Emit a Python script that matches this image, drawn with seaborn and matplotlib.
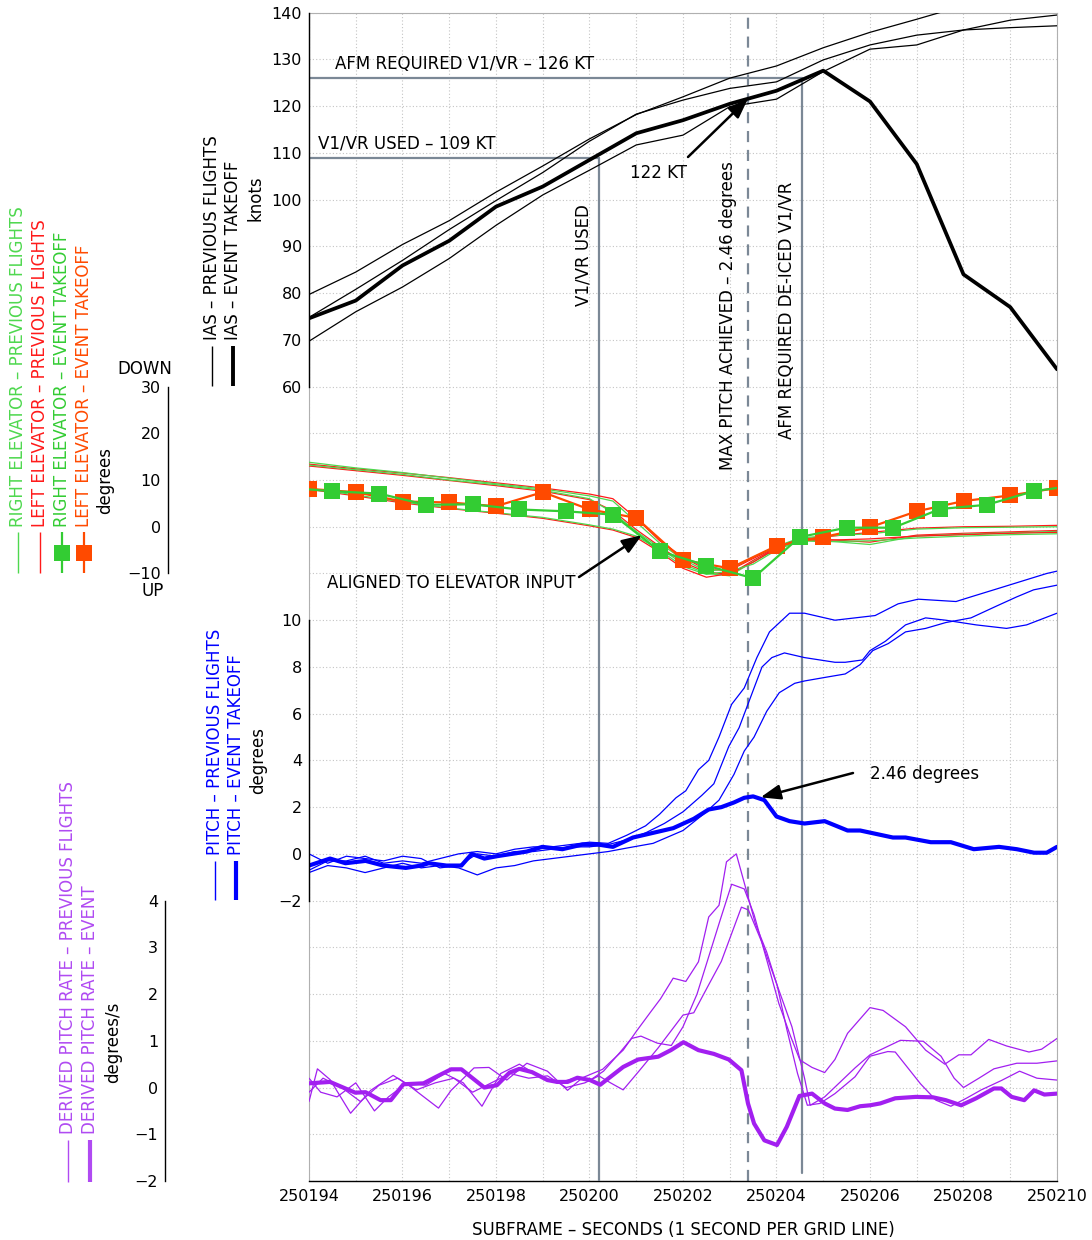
import numpy as np
import matplotlib
matplotlib.use("Agg")
import matplotlib.pyplot as plt
import seaborn as sns
from matplotlib.lines import Line2D
from matplotlib.ticker import FuncFormatter

sns.set_style("white")
plt.rcParams["font.family"] = ["DejaVu Sans"]
plt.rcParams["text.color"] = "black"
plt.rcParams["axes.labelcolor"] = "black"
plt.rcParams["xtick.color"] = "black"
plt.rcParams["ytick.color"] = "black"

# ---------------------------------------------------------------- data
SUBFRAME_BASE = 250000
X_START, X_END = 250194, 250210

# IAS (knots), 1 sample per second
ias_time = [194, 195, 196, 197, 198, 199, 200, 201, 202, 203, 204, 205, 206, 207, 208, 209, 210]
ias_event = [74.6, 78.4, 85.9, 91.2, 98.5, 102.8, 108.5, 114.2, 117.0, 120.5, 123.3, 127.6, 121.0, 107.6, 84.0, 77.0, 63.7]
ias_prev_1 = [79.7, 84.5, 90.4, 95.5, 101.6, 107.2, 113.0, 118.2, 122.0, 126.0, 128.6, 132.5, 135.8, 138.6, 141.5, 143.5, 145.0]
ias_prev_2 = [74.8, 80.8, 87.0, 93.6, 99.8, 105.8, 112.5, 118.3, 121.3, 123.8, 125.2, 129.9, 133.1, 135.2, 136.3, 136.8, 137.2]
ias_prev_3 = [69.7, 76.0, 81.3, 87.4, 94.5, 101.0, 106.3, 111.7, 113.8, 119.9, 121.5, 127.4, 132.2, 133.1, 136.3, 138.4, 139.5]

# Elevator (degrees, + = trailing edge down)
elev_left_event_time = [194, 195, 196, 197, 198, 199, 200, 201, 202, 203, 204, 205, 206, 207, 208, 209, 210]
elev_left_event = [8.1, 7.4, 5.4, 5.2, 4.4, 7.4, 3.7, 1.9, -7.1, -8.9, -4.1, -2.2, -0.1, 3.3, 5.5, 6.7, 8.3]
elev_right_event_time = [193.5, 194.5, 195.5, 196.5, 197.5, 198.5, 199.5, 200.5, 201.5, 202.5, 203.5,
                         204.5, 205.5, 206.5, 207.5, 208.5, 209.5, 210.5]
elev_right_event = [8.4, 7.6, 7.1, 4.7, 4.8, 3.7, 3.3, 2.6, -5.2, -8.3, -11.0, -2.2, -0.2, -0.2, 3.8, 4.7, 7.6, 9.0]

elev_prev_time = [194, 195, 196, 197, 198, 199, 200, 200.5, 201, 201.5, 202, 202.5, 203, 203.5, 204, 204.5,
                  205, 206, 207, 208, 209, 210]
elev_right_prev_a = [13.8, 12.6, 11.6, 10.4, 9.2, 8.1, 6.6, 5.5, 1.0, -3.5, -7.0, -9.5, -9.0, -6.5, -4.2, -2.4, -2.0, -1.5, -0.5, -0.2, -0.1, 0.0]
elev_left_prev_a = [13.4, 12.4, 11.5, 10.5, 9.4, 8.3, 7.0, 6.0, 1.8, -3.0, -6.5, -9.2, -9.3, -6.8, -4.4, -2.6, -2.2, -1.2, -0.3, 0.0, 0.1, 0.3]
elev_right_prev_b = [13.2, 12.2, 11.2, 10.0, 9.0, 7.8, 6.0, 3.0, -1.0, -4.5, -8.0, -10.0, -10.5, -7.5, -4.8, -2.8, -3.0, -3.8, -2.0, -1.6, -1.3, -1.0]
elev_left_prev_b = [13.0, 12.0, 11.0, 9.9, 8.8, 7.6, 5.8, 3.4, -0.6, -4.2, -7.6, -9.7, -10.2, -7.2, -4.5, -2.6, -2.7, -3.3, -1.8, -1.4, -1.1, -0.8]
elev_right_prev_c = [8.2, 6.8, 5.3, 4.0, 3.0, 2.0, 0.4, -0.5, -2.0, -5.0, -8.5, -10.2, -9.5, -8.0, -5.0, -3.0, -3.2, -3.0, -2.4, -2.0, -1.7, -1.5]
elev_left_prev_c = [8.0, 6.6, 5.1, 3.9, 2.9, 1.8, 0.2, -0.7, -2.3, -5.4, -8.9, -10.8, -10.0, -7.6, -4.6, -2.7, -2.9, -2.6, -2.0, -1.7, -1.4, -1.2]

# Pitch (degrees)
pitch_event_time = [194.0, 194.45, 194.78, 195.21, 195.59, 196.07, 196.4, 196.56, 196.94, 197.26,
                    197.48, 197.75, 198.02, 198.34, 198.66, 198.99, 199.42, 199.85, 200.18, 200.5,
                    200.93, 201.36, 201.79, 202.23, 202.55, 202.82, 203.09, 203.31, 203.5, 203.74,
                    204.0, 204.28, 204.6, 205.03, 205.52, 205.79, 206.49, 206.76, 207.3, 207.73,
                    208.22, 208.76, 209.14, 209.51, 209.78, 210.0]
pitch_event = [-0.5, -0.2, -0.4, -0.3, -0.5, -0.6, -0.5, -0.4, -0.5, -0.5,
               0.0, -0.2, -0.1, 0.0, 0.1, 0.3, 0.2, 0.4, 0.4, 0.3,
               0.7, 0.9, 1.1, 1.5, 1.9, 2.0, 2.2, 2.4, 2.46, 2.3,
               1.6, 1.4, 1.3, 1.4, 1.0, 1.0, 0.7, 0.7, 0.5, 0.5,
               0.2, 0.3, 0.2, 0.05, 0.05, 0.3]
pitch_prev_1_time = [194.0, 194.4, 194.8, 195.2, 195.6, 196.0, 196.4, 196.8, 197.2, 197.6,
                     198.0, 198.4, 198.8, 199.2, 199.6, 200.0, 200.4, 200.8, 201.2, 201.5,
                     201.85, 202.06, 202.33, 202.55, 202.77, 203.04, 203.31, 203.58, 203.85, 204.28,
                     204.6, 205.25, 205.68, 206.11, 206.6, 207.03, 207.84, 208.16, 208.81, 209.78, 210.0]
pitch_prev_1 = [-0.7, -0.3, -0.3, -0.1, -0.4, -0.3, -0.4, -0.2, 0.0, 0.1,
                0.0, 0.2, 0.3, 0.3, 0.4, 0.5, 0.45, 0.8, 1.2, 1.7,
                2.4, 2.7, 3.6, 4.0, 5.0, 6.4, 7.1, 8.4, 9.5, 10.3,
                10.3, 10.0, 10.1, 10.2, 10.7, 10.9, 10.8, 11.0, 11.4, 12.0, 12.1]
pitch_prev_2_time = [194.0, 194.4, 194.8, 195.2, 195.6, 196.0, 196.4, 196.8, 197.2, 197.6,
                     198.0, 198.4, 198.8, 199.2, 199.6, 200.0, 200.4, 200.8, 201.2, 201.6,
                     202.0, 202.4, 202.66, 202.98, 203.2, 203.52, 203.69, 203.9, 204.17, 204.6,
                     205.25, 205.47, 205.84, 206.0, 206.33, 206.76, 207.19, 207.62, 208.27, 208.92,
                     209.35, 210.0]
pitch_prev_2 = [0.0, -0.4, -0.1, -0.2, -0.3, -0.1, -0.2, -0.6, -0.5, 0.0,
                -0.1, 0.1, 0.1, 0.2, 0.3, 0.3, 0.4, 0.6, 0.9, 1.3,
                1.8, 2.5, 3.0, 4.6, 5.4, 7.1, 8.0, 8.4, 8.6, 8.4,
                8.2, 8.2, 8.3, 8.7, 9.1, 9.8, 10.1, 10.0, 9.8, 9.65,
                9.8, 10.3]
pitch_prev_3_time = [194.0, 194.4, 194.8, 195.2, 195.6, 196.0, 196.4, 196.8, 197.2, 197.6,
                     198.0, 198.4, 198.8, 199.2, 199.6, 200.0, 200.4, 200.8, 201.36, 202.0,
                     202.44, 202.77, 203.09, 203.31, 203.52, 203.79, 204.06, 204.39, 204.6, 205.03,
                     205.47, 205.79, 206.06, 206.39, 206.76, 207.19, 207.62, 208.16, 208.7, 209.14,
                     209.5, 210.0]
pitch_prev_3 = [-0.8, -0.5, -0.6, -0.8, -0.6, -0.4, -0.6, -0.5, -0.6, -0.9,
                -0.6, -0.5, -0.3, -0.2, -0.1, 0.0, 0.1, 0.25, 0.45, 1.0,
                1.7, 2.3, 3.4, 4.4, 5.0, 6.1, 6.9, 7.3, 7.4, 7.55,
                7.7, 8.1, 8.7, 9.0, 9.5, 9.65, 9.9, 10.1, 10.6, 11.0,
                11.3, 11.5]

# Derived pitch rate (degrees/s)
prate_event_time = [194.0, 194.45, 194.99, 195.21, 195.53, 195.75, 196.02, 196.45, 196.72, 197.04,
                    197.26, 197.75, 198.02, 198.29, 198.5, 198.77, 199.1, 199.31, 199.53, 199.74,
                    200.01, 200.23, 200.45, 200.72, 201.04, 201.47, 201.74, 202.01, 202.33, 202.66,
                    202.98, 203.25, 203.39, 203.52, 203.74, 204.01, 204.22, 204.49, 204.76, 205.03,
                    205.25, 205.52, 205.79, 206.0, 206.22, 206.54, 206.98, 207.35, 207.62, 207.95,
                    208.27, 208.65, 208.81, 209.03, 209.3, 209.51, 209.73, 210.0]
prate_event = [0.09, 0.12, -0.11, -0.1, -0.27, -0.27, 0.07, 0.09, 0.23, 0.39,
               0.39, 0.0, 0.05, 0.32, 0.4, 0.33, 0.16, 0.12, 0.12, 0.21,
               0.16, 0.06, 0.23, 0.44, 0.6, 0.66, 0.8, 0.97, 0.8, 0.72,
               0.6, 0.37, -0.34, -0.77, -1.13, -1.23, -0.84, -0.18, -0.13, -0.34,
               -0.45, -0.48, -0.4, -0.38, -0.34, -0.23, -0.2, -0.21, -0.27, -0.38,
               -0.23, -0.02, -0.02, -0.2, -0.27, -0.06, -0.15, -0.13]
prate_prev_1_time = [194.0, 194.18, 194.45, 194.89, 195.32, 195.8, 196.13, 196.77, 197.04, 197.53,
                     197.85, 198.23, 198.66, 199.1, 199.53, 199.85, 200.28, 200.72, 201.0, 201.31,
                     201.52, 201.79, 202.06, 202.33, 202.55, 202.77, 202.93, 203.14, 203.36, 203.55,
                     203.79, 204.01, 204.22, 204.45, 204.66, 204.93, 205.25, 205.68, 206.0, 206.38,
                     206.54, 207.08, 207.41, 207.73, 208.06, 208.38, 208.81, 209.2, 209.57, 210.0]
prate_prev_1 = [-0.3, 0.4, 0.17, -0.55, -0.06, 0.26, 0.05, -0.44, -0.06, 0.42,
                0.43, 0.16, 0.52, 0.35, -0.06, 0.21, 0.39, 0.8, 1.2, 1.62,
                1.9, 2.34, 2.27, 2.69, 3.65, 3.9, 4.83, 5.0, 4.2, 3.5,
                2.9, 2.2, 1.25, 0.3, -0.38, -0.34, -0.13, 0.23, 0.67, 0.77,
                0.76, 0.08, -0.27, -0.4, -0.23, -0.05, 0.15, 0.35, 0.2, 0.16]
prate_prev_2_time = [194.0, 194.25, 194.6, 195.0, 195.4, 195.7, 196.1, 196.5, 196.9, 197.3,
                     197.7, 198.1, 198.5, 198.9, 199.3, 199.7, 200.0, 200.3, 200.65, 200.9,
                     201.1, 201.45, 201.75, 202.0, 202.3, 202.55, 202.8, 203.04, 203.31, 203.52,
                     203.8, 204.05, 204.3, 204.5, 204.76, 205.03, 205.25, 205.52, 206.0, 206.28,
                     206.76, 207.19, 207.6, 207.9, 208.16, 208.54, 208.92, 209.4, 209.67, 210.0]
prate_prev_2 = [0.2, -0.1, -0.2, 0.1, -0.5, -0.2, 0.1, 0.05, 0.3, 0.1,
                -0.4, 0.3, 0.5, 0.25, 0.1, 0.2, 0.15, 0.35, 0.75, 1.05,
                1.1, 0.95, 0.9, 1.3, 2.0, 2.8, 3.6, 4.35, 4.25, 3.7,
                2.7, 1.8, 1.1, 0.59, 0.43, 0.32, 0.6, 1.16, 1.71, 1.65,
                1.3, 0.8, 0.5, 0.7, 0.7, 1.03, 0.89, 0.76, 0.82, 1.05]
prate_prev_3_time = [194.0, 194.3, 194.7, 195.1, 195.5, 195.9, 196.3, 196.7, 197.1, 197.5,
                     197.9, 198.3, 198.7, 199.1, 199.5, 199.9, 200.2, 200.45, 200.72, 201.04,
                     201.47, 202.0, 202.23, 202.55, 202.82, 203.25, 203.4, 203.69, 204.01, 204.33,
                     204.6, 204.72, 205.03, 205.68, 206.0, 206.65, 207.14, 207.52, 207.8, 208.0,
                     208.33, 208.65, 209.14, 209.57, 210.0]
prate_prev_3 = [-0.1, 0.2, 0.0, -0.3, 0.05, 0.2, -0.05, 0.1, 0.2, -0.1,
                0.1, 0.3, 0.2, 0.25, 0.0, 0.1, 0.25, 0.1, -0.05, 0.33,
                0.85, 1.55, 1.6, 2.2, 2.7, 3.86, 3.8, 3.1, 2.2, 1.3,
                0.2, -0.38, -0.2, 0.42, 0.7, 1.01, 0.99, 0.67, 0.2, 0.0,
                0.2, 0.4, 0.52, 0.52, 0.57]

# reference speeds / times
V1_USED_KT = 109
AFM_VR_KT = 126
T_V1_USED = 250200.2
T_MAX_PITCH = 250203.39
T_AFM_DEICED = 250204.55
MAX_PITCH_DEG = 2.46
ALIGN_POINT = (250201.12, -1.8)          # elevator-axis point of the "aligned" arrow
PITCH_ARROW_POINT = (250203.66, 2.42)    # pitch-axis point of the 2.46 arrow

# ---------------------------------------------------------------- style
GREEN = "#33cc33"
GREEN_THIN = "#4fd84f"
RED = "#ff1a1a"
ORANGE = "#ff4a00"
BLUE = "#0000ff"
PURPLE = "#a21ff0"
PURPLE_TXT = "#b04af2"
REF_C = "#7b8896"
GRID_C = "#c4c4c4"

W, H = 1092, 1240
L, R, TOP, BOT = 309, 1057, 12.7, 1181
NROWS = 25
rect = [L / W, 1 - BOT / H, (R - L) / W, (BOT - TOP) / H]

fig = plt.figure(figsize=(W / 100, H / 100), dpi=100)


def fy(py):
    return 1 - py / H


def t(arr):
    return SUBFRAME_BASE + np.asarray(arr, dtype=float)


# ---------------------------------------------------------------- main frame / grid
ax = fig.add_axes(rect)
ax.set_xlim(X_START, X_END)
ax.set_ylim(0, NROWS)
ax.set_yticks(np.arange(0, NROWS + 1))
ax.tick_params(axis="y", length=0, labelleft=False)
ax.set_xticks(np.arange(X_START, X_END + 1))
ax.set_xticks(np.arange(X_START, X_END + 0.001, 0.1), minor=True)
ax.xaxis.set_major_formatter(FuncFormatter(lambda v, p: f"{int(round(v))}" if int(round(v)) % 2 == 0 else ""))
ax.tick_params(axis="x", which="major", direction="in", length=7, width=1, labelsize=11.5, pad=6)
ax.tick_params(axis="x", which="minor", direction="in", length=3.5, width=0.7)
ax.grid(True, which="major", ls=(0, (1, 2)), color=GRID_C, lw=0.8)
for side in ["top", "right", "left"]:
    ax.spines[side].set_color("#b0b0b0")
    ax.spines[side].set_linewidth(0.8)
ax.spines["bottom"].set_color("black")
ax.spines["bottom"].set_linewidth(1.0)
ax.set_xlabel("SUBFRAME – SECONDS (1 SECOND PER GRID LINE)", fontsize=12, labelpad=12)


def make_band(units_per_row, zero_row_from_top, ticks, minor_step, spine_px):
    """Overlay axes whose y scale puts value 0 on grid row `zero_row_from_top`."""
    a = fig.add_axes(rect)
    a.patch.set_visible(False)
    zb = NROWS - zero_row_from_top
    a.set_ylim(-zb * units_per_row, (NROWS - zb) * units_per_row)
    a.set_xlim(X_START, X_END)
    a.xaxis.set_visible(False)
    for side in ["top", "right", "bottom"]:
        a.spines[side].set_visible(False)
    a.spines["left"].set_position(("axes", (spine_px - L) / (R - L)))
    a.spines["left"].set_bounds(ticks[0], ticks[-1])
    a.spines["left"].set_color("black")
    a.spines["left"].set_linewidth(1.0)
    a.set_yticks(ticks)
    a.set_yticks(np.arange(ticks[0], ticks[-1] + 1e-9, minor_step), minor=True)
    a.tick_params(axis="y", which="major", direction="in", length=7, width=1, labelsize=11.5, pad=5)
    a.tick_params(axis="y", which="minor", direction="in", length=3.5, width=0.7)
    a.grid(False)
    return a


ax_ias = make_band(10, 14, list(range(60, 141, 10)), 1, L)        # 140 kt on the top row
ax_elev = make_band(10, 11, [-10, 0, 10, 20, 30], 1, 168)
ax_pitch = make_band(2, 18, [-2, 0, 2, 4, 6, 8, 10], 0.2, L)
ax_prate = make_band(1, 23, [-2, -1, 0, 1, 2, 3, 4], 0.1, 165)

# ---------------------------------------------------------------- reference lines
ias_bottom = ax_ias.get_ylim()[0]
ax_ias.plot([X_START, T_AFM_DEICED], [AFM_VR_KT, AFM_VR_KT], color=REF_C, lw=1.6)
ax_ias.plot([X_START, T_V1_USED], [V1_USED_KT, V1_USED_KT], color=REF_C, lw=1.6)
ax_ias.plot([T_V1_USED, T_V1_USED], [V1_USED_KT, ias_bottom], color=REF_C, lw=1.6)
ax_ias.plot([T_AFM_DEICED, T_AFM_DEICED], [AFM_VR_KT, ias_bottom + 1.8], color=REF_C, lw=1.6)
ax.axvline(T_MAX_PITCH, color=REF_C, lw=1.6, ls=(0, (5, 3.5)))

# ---------------------------------------------------------------- data series
def line(a, x, y, color, lw, **kw):
    sns.lineplot(x=t(x), y=y, ax=a, color=color, lw=lw, estimator=None, sort=False, legend=False, **kw)


for s in (ias_prev_1, ias_prev_2, ias_prev_3):
    line(ax_ias, ias_time, s, "black", 0.9)
line(ax_ias, ias_time, ias_event, "black", 2.7)

for g, r in ((elev_right_prev_a, elev_left_prev_a), (elev_right_prev_b, elev_left_prev_b),
             (elev_right_prev_c, elev_left_prev_c)):
    line(ax_elev, elev_prev_time, r, RED, 0.9)
    line(ax_elev, elev_prev_time, g, GREEN_THIN, 0.9)
line(ax_elev, elev_left_event_time, elev_left_event, ORANGE, 1.6, marker="s", markersize=11,
     markeredgewidth=0)
line(ax_elev, elev_right_event_time, elev_right_event, GREEN, 1.6, marker="s", markersize=11,
     markeredgewidth=0)

for tt, s in ((pitch_prev_1_time, pitch_prev_1), (pitch_prev_2_time, pitch_prev_2),
              (pitch_prev_3_time, pitch_prev_3)):
    line(ax_pitch, tt, s, BLUE, 0.9)
line(ax_pitch, pitch_event_time, pitch_event, BLUE, 3.0)

for tt, s in ((prate_prev_1_time, prate_prev_1), (prate_prev_2_time, prate_prev_2),
              (prate_prev_3_time, prate_prev_3)):
    line(ax_prate, tt, s, PURPLE, 0.9)
line(ax_prate, prate_event_time, prate_event, PURPLE, 3.0)

# ---------------------------------------------------------------- annotations
FS = 12
fig.text(335 / W, fy(64), f"AFM REQUIRED V1/VR – {AFM_VR_KT} KT", ha="left", va="center", fontsize=FS)
fig.text(318 / W, fy(143), f"V1/VR USED – {V1_USED_KT} KT", ha="left", va="center", fontsize=FS)
fig.text(583 / W, fy(255), "V1/VR USED", rotation=90, ha="center", va="center", fontsize=FS)
fig.text(728 / W, fy(316), f"MAX PITCH ACHIEVED – {MAX_PITCH_DEG} degrees", rotation=90,
         ha="center", va="center", fontsize=FS)
fig.text(787 / W, fy(310), "AFM REQUIRED DE-ICED V1/VR", rotation=90, ha="center", va="center", fontsize=FS)

arrow = dict(arrowstyle="-|>,head_length=0.8,head_width=0.3", color="black", lw=1.8,
             mutation_scale=15, shrinkA=0, shrinkB=0)
ias_at_max = float(np.interp(T_MAX_PITCH, t(ias_time), ias_event))
fig.text(630 / W, fy(173), f"{round(ias_at_max)} KT", ha="left", va="center", fontsize=FS)
ax_ias.annotate("", xy=(T_MAX_PITCH, ias_at_max), xycoords="data",
                xytext=(688, H - 157), textcoords="figure pixels", arrowprops=arrow)

fig.text(327 / W, fy(583), "ALIGNED TO ELEVATOR INPUT", ha="left", va="center", fontsize=FS)
ax_elev.annotate("", xy=ALIGN_POINT, xycoords="data",
                 xytext=(579, H - 577), textcoords="figure pixels", arrowprops=arrow)

fig.text(870 / W, fy(774), f"{MAX_PITCH_DEG} degrees", ha="left", va="center", fontsize=FS)
ax_pitch.annotate("", xy=PITCH_ARROW_POINT, xycoords="data",
                  xytext=(853, H - 773), textcoords="figure pixels", arrowprops=arrow)

# ---------------------------------------------------------------- vertical legends
def vlegend(x, text_bottom, s, color, y0, y1, lw, marker=False):
    fig.text(x / W, fy(text_bottom), s, rotation=90, ha="center", va="bottom", color=color, fontsize=FS)
    fig.add_artist(Line2D([x / W, x / W], [fy(y0), fy(y1)], color=color, lw=lw, solid_capstyle="butt"))
    if marker:
        fig.add_artist(Line2D([x / W], [fy((y0 + y1) / 2)], marker="s", ms=11, mew=0, color=color, ls="none"))


# elevator
vlegend(18, 527, "RIGHT ELEVATOR – PREVIOUS FLIGHTS", GREEN_THIN, 532, 573, 1.0)
vlegend(40, 527, "LEFT ELEVATOR – PREVIOUS FLIGHTS", RED, 532, 573, 1.0)
vlegend(62, 527, "RIGHT ELEVATOR – EVENT TAKEOFF", GREEN, 532, 573, 1.6, marker=True)
vlegend(84, 527, "LEFT ELEVATOR – EVENT TAKEOFF", ORANGE, 532, 573, 1.6, marker=True)
fig.text(105 / W, fy(480), "degrees", rotation=90, ha="center", va="center", fontsize=FS)
fig.text(145 / W, fy(369), "DOWN", ha="center", va="center", fontsize=FS)
fig.text(153 / W, fy(591), "UP", ha="center", va="center", fontsize=FS)

# IAS
vlegend(212, 340, "IAS – PREVIOUS FLIGHTS", "black", 346, 386, 1.0)
vlegend(233, 340, "IAS – EVENT TAKEOFF", "black", 346, 386, 2.8)
fig.text(256 / W, fy(198), "knots", rotation=90, ha="center", va="center", fontsize=FS)

# pitch
vlegend(215, 855, "PITCH – PREVIOUS FLIGHTS", BLUE, 861, 900, 1.0)
vlegend(236, 855, "PITCH – EVENT TAKEOFF", BLUE, 861, 900, 3.0)
fig.text(258 / W, fy(760), "degrees", rotation=90, ha="center", va="center", fontsize=FS)

# pitch rate
vlegend(68, 1134, "DERIVED PITCH RATE – PREVIOUS FLIGHTS", PURPLE_TXT, 1140, 1182, 1.0)
vlegend(90, 1134, "DERIVED PITCH RATE – EVENT", PURPLE_TXT, 1140, 1182, 3.0)
fig.text(113 / W, fy(1042), "degrees/s", rotation=90, ha="center", va="center", fontsize=FS)

fig.savefig("out.png", dpi=100)
